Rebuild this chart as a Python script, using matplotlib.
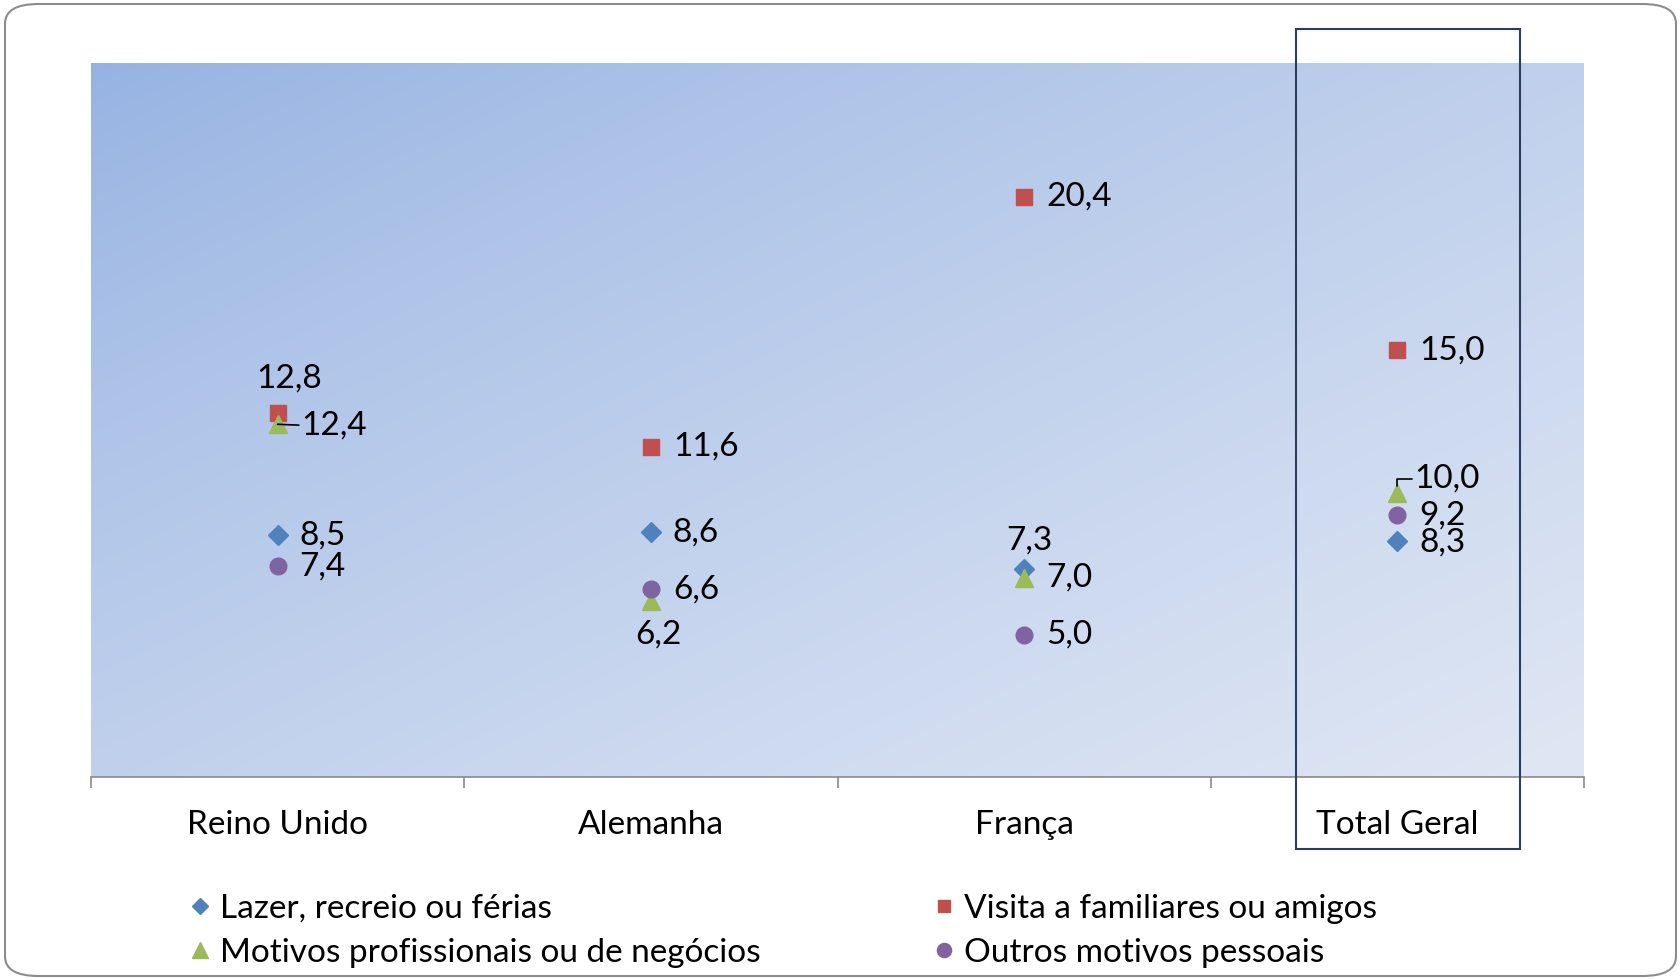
import numpy as np
import matplotlib
matplotlib.use("Agg")
from matplotlib import pyplot as plt
from matplotlib.patches import FancyBboxPatch, Rectangle
from matplotlib.colors import to_rgb

plt.rcParams['font.family'] = ['Lato', 'DejaVu Sans']

categories = ["Reino Unido", "Alemanha", "França", "Total Geral"]
series_names = ["Lazer, recreio ou férias",
                "Visita a familiares ou amigos",
                "Motivos profissionais ou de negócios",
                "Outros motivos pessoais"]
lazer = [8.5, 8.6, 7.3, 8.3]
visita = [12.8, 11.6, 20.4, 15.0]
profissionais = [12.4, 6.2, 7.0, 10.0]
outros = [7.4, 6.6, 5.0, 9.2]

colors = ["#4f81bd", "#c0504d", "#9bbb59", "#8064a2"]
markers = ["D", "s", "^", "o"]
msizes = [10, 11, 13, 12]

# label placement (pixels) that differ from "to the right"
special = {
    (1, 0): (12, 34, "center", "center", None),
    (2, 0): (24, -1, "left", "center", "straight"),
    (2, 1): (8, -34, "center", "center", None),
    (0, 2): (5, 29, "center", "center", None),
    (2, 3): (17, 14, "left", "center", "elbow"),
    (0, 3): (22, -2, "left", "center", None),
}

W, H = 1680, 980
FS = 24
fig = plt.figure(figsize=(W / 100, H / 100), dpi=100)

# outer rounded frame
frame = FancyBboxPatch((5 / W, 4 / H), 1671 / W, 972 / H,
                       boxstyle="round,pad=0,rounding_size=0.02",
                       transform=fig.transFigure, facecolor="white",
                       edgecolor="#8c8c8c", lw=1.5, zorder=-5)
fig.patches.append(frame)

ax = fig.add_axes([91 / W, (H - 777) / H, 1493 / W, 714 / H])
ax.set_xlim(-0.5, 3.5)

# diagonal gradient background (darker top-left, lighter bottom-right)
c1 = np.array(to_rgb("#95b2e2"))
c2 = np.array(to_rgb("#e0e7f4"))
gx, gy = np.meshgrid(np.linspace(0, 1, 300), np.linspace(0, 1, 200))
t = ((gx + gy) / 2) ** 0.8
img = c1[None, None, :] * (1 - t[..., None]) + c2[None, None, :] * t[..., None]
ax.imshow(img, extent=(-0.5, 3.5, 0, 25.1), origin="upper", aspect="auto",
          zorder=0, interpolation="bilinear")
ax.set_ylim(0, 25.1)

x = np.arange(len(categories))
all_series = [lazer, visita, profissionais, outros]
handles = []
for i, vals in enumerate(all_series):
    h, = ax.plot(x, vals, linestyle="none", marker=markers[i], ms=msizes[i],
                 color=colors[i], mec=colors[i], zorder=3, label=series_names[i])
    handles.append(h)
    for j, v in enumerate(vals):
        txt = f"{v:.1f}".replace(".", ",")
        dx, dy, ha, va, line = special.get((i, j), (22, 0, "left", "center", None))
        arrow = None
        if line == "straight":
            arrow = dict(arrowstyle="-", color="black", lw=1.2, shrinkA=0,
                         shrinkB=0, relpos=(0, 0.5))
        elif line == "elbow":
            arrow = dict(arrowstyle="-", color="black", lw=1.2, shrinkA=0,
                         shrinkB=5, relpos=(0, 0.5),
                         connectionstyle="angle,angleA=0,angleB=90,rad=0")
        ax.annotate(txt, (j, v), xytext=(dx, dy), textcoords="offset pixels",
                    ha=ha, va=va, fontsize=FS, color="black", zorder=4,
                    arrowprops=arrow)

for s in ["top", "left", "right"]:
    ax.spines[s].set_visible(False)
ax.spines["bottom"].set_color("#8a8a8a")
ax.spines["bottom"].set_linewidth(1.2)
ax.set_yticks([])
ax.set_xticks(x)
ax.set_xticklabels(categories, fontsize=FS)
ax.tick_params(axis="x", which="major", length=0, pad=24)
ax.set_xticks(np.arange(-0.5, 4, 1), minor=True)
ax.tick_params(axis="x", which="minor", length=8, color="#8a8a8a", width=1.2)

# highlight box around "Total Geral"
fig.patches.append(Rectangle((1296 / W, (H - 849) / H), 224 / W, 820 / H,
                             transform=fig.transFigure, fill=False,
                             edgecolor="#2b3f5c", lw=1.5, zorder=5))

order = [0, 2, 1, 3]
fig.legend([handles[k] for k in order], [series_names[k] for k in order],
           ncol=2, loc="upper left", bbox_to_anchor=(190 / W, (H - 894) / H),
           frameon=False, fontsize=FS, handlelength=0.6, handletextpad=0.3,
           columnspacing=5.2, labelspacing=0.42, borderaxespad=0, borderpad=0,
           markerscale=0.85)

fig.savefig("out.png", dpi=100)
